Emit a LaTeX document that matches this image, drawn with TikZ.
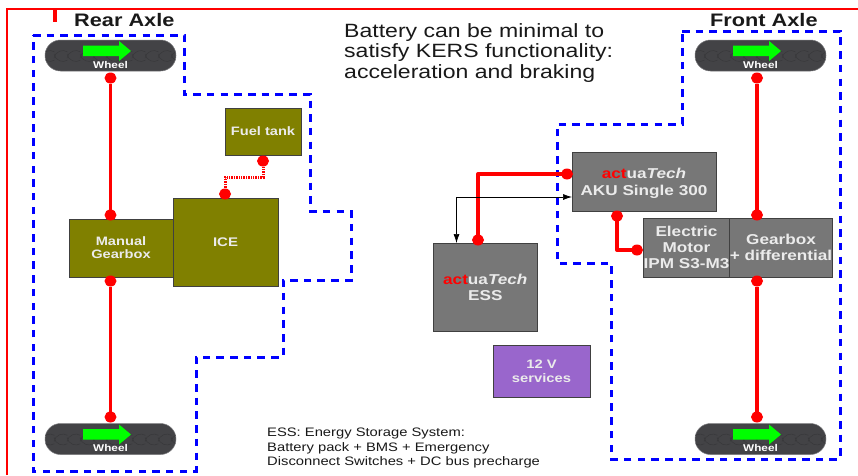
\documentclass[tikz,border=0pt]{standalone}
\usepackage{fontspec}
\setmainfont[FakeStretch=1.2]{Liberation Sans}
\usetikzlibrary{arrows.meta,shapes.geometric}
\definecolor{olivebox}{HTML}{808000}
\definecolor{greybox}{HTML}{777777}
\definecolor{purplebox}{HTML}{9966CC}
\definecolor{tire}{HTML}{434346}
\definecolor{tread}{HTML}{38383A}
\newcommand{\fs}[1]{\fontsize{#1}{#1}\selectfont}
\newcommand{\actua}{\textcolor{red}{act}ua\textit{Tech}}
\newcommand{\wheelpic}[3]{% name, x, y (top-left)
  \node[tirebox] (#1) at (#2+65.5,#3+15.5) {};
  \begin{scope}
    \clip[rounded corners=15.5pt] (#2,#3) rectangle ++(131,31);
    \foreach \k in {0,1,...,10} {
      \draw[tread,line width=.5pt] (#2+\k*13-4,#3+14) arc[start angle=170,end angle=60,radius=9];
      \draw[tread,line width=.5pt] (#2+\k*13-4,#3+18) arc[start angle=190,end angle=300,radius=9];
    }
  \end{scope}
  \fill[green] (#2+38,#3+5.5) -- (#2+74,#3+5.5) -- (#2+74,#3+1) -- (#2+86,#3+11) -- (#2+74,#3+21) -- (#2+74,#3+16) -- (#2+38,#3+16) -- cycle;
  \node[wheeltext] (#1t) at (#2+65.5,#3+24.5) {Wheel};
}
\tikzset{
  x=1pt,y=-1pt,
  tirebox/.style={draw=tire!70!white,line width=.5pt,fill=tire,rounded corners=15.5pt,minimum width=131pt,minimum height=31pt,inner sep=0pt,outer sep=0pt},
  wheeltext/.style={text=white,font=\fs{9.8}\bfseries,inner sep=0pt},
  boxbase/.style={draw=black!75,line width=1pt,inner sep=0pt,outer sep=0pt,align=center,text=white!92!black,font=\fs{12.2}\bfseries},
  olive/.style={boxbase,fill=olivebox},
  grey/.style={boxbase,fill=greybox,font=\fs{14.3}\bfseries},
  dotn/.style={ellipse,fill=red,draw=none,minimum width=12pt,minimum height=11pt,inner sep=0pt,outer sep=0pt},
  redline/.style={draw=red,line width=3.4pt,line join=round},
  reddot/.style={draw=red,line width=3pt,dash pattern=on 1.4pt off 1pt},
  bluedash/.style={draw=blue,line width=3pt,dash pattern=on 7.5pt off 6.2pt},
  thin arrow/.style={draw=black,line width=.7pt,{Latex[length=9pt,width=6pt]}-{Latex[length=9pt,width=6pt]}},
  label text/.style={inner sep=0pt,anchor=west,text=black!90},
}
\begin{document}
\begin{tikzpicture}
\useasboundingbox (0,0) rectangle (858,475);
\fill[white] (0,0) rectangle (858,475);
% frame
\draw[red,line width=1.5pt] (7,475) -- (7,9) -- (858,9);
\draw[red,line width=3.5pt] (55,9) -- (55,22);
% zones
\draw[bluedash] (33,35) -- (184,35) -- (184,94) -- (310,94) -- (310,211) -- (351,211) -- (351,280) -- (283,280) -- (283,357) -- (196,357) -- (196,471) -- (33,471) -- cycle;
\draw[bluedash] (682,31) -- (840,31) -- (840,459) -- (611,459) -- (611,263) -- (557,263) -- (557,124) -- (682,124) -- cycle;
% wheels
\wheelpic{wrt}{45}{40}
\wheelpic{wrb}{45}{423.5}
\wheelpic{wft}{695}{40}
\wheelpic{wfb}{695}{423.5}
% boxes
\node[olive,minimum width=104pt,minimum height=58pt] (mg) at (121,248) {Manual\\[1pt]Gearbox};
\node[olive,minimum width=105pt,minimum height=88pt,font=\fs{12.5}\bfseries] (ice) at (225.5,242) {ICE};
\node[olive,minimum width=76pt,minimum height=47pt] (fuel) at (263,131.5) {Fuel tank};
\node[grey,minimum width=144pt,minimum height=59pt] (aku) at (644,181.5) {\rule{0pt}{14pt}\actua\\[2.5pt]AKU Single 300};
\node[grey,minimum width=104.5pt,minimum height=88pt] (ess) at (485.3,287) {\actua\\[1.5pt]ESS};
\node[grey,minimum width=87pt,minimum height=59pt] (em) at (686.5,247.5) {Electric\\[1.5pt]Motor\\[1.5pt]IPM S3-M3};
\node[grey,minimum width=102pt,minimum height=59pt] (gd) at (781,247.5) {Gearbox\\[1pt]+ differential};
\node[boxbase,fill=purplebox,minimum width=97pt,minimum height=52pt,font=\fs{12.3}\bfseries] (v12) at (541.5,371) {12 V\\[1.5pt]services};
% dots
\node[dotn] (a1) at (110.5,78) {};
\node[dotn] (a2) at (110.5,215) {};
\node[dotn] (a3) at (110.5,281) {};
\node[dotn] (a4) at (110.5,417) {};
\node[dotn] (f1) at (263,161) {};
\node[dotn] (f2) at (225,194) {};
\node[dotn] (b1) at (757,78) {};
\node[dotn] (b2) at (757,215) {};
\node[dotn] (b3) at (757,281) {};
\node[dotn] (b4) at (757,417) {};
\node[dotn] (e1) at (478,240) {};
\node[dotn] (e2) at (567,174) {};
\node[dotn] (k1) at (617,216) {};
\node[dotn] (k2) at (637,250) {};
\coordinate (ar1) at (456.5,243);
\coordinate (ar2) at (572,197);
% connectors
\draw[redline] (a1) -- (a2);
\draw[redline] (a3) -- (a4);
\draw[redline] (b1) -- (b2);
\draw[redline] (b3) -- (b4);
\draw[redline] (e1.center) |- (e2.center);
\draw[redline] (k1.center) |- (k2.center);
\draw[reddot] (f1) -- (263,177) -- (225,177) -- (f2);
\draw[thin arrow] (ar1) |- (ar2);
% labels
\node[label text,font=\fs{18.1}\bfseries] (t1) at (74,20) {Rear Axle};
\node[label text,font=\fs{18.1}\bfseries] (t2) at (710,20) {Front Axle};
\node[label text,font=\fs{19.2},align=left,anchor=north west] (t3) at (344,23) {Battery can be minimal to\\[1.4pt]satisfy KERS functionality:\\[1.4pt]acceleration and braking};
\node[label text,font=\fs{12.3},align=left,anchor=north west] (t4) at (267,427.7) {ESS: Energy Storage System:\\[2.2pt]Battery pack + BMS + Emergency\\[2.2pt]Disconnect Switches + DC bus precharge};
\end{tikzpicture}
\end{document}
